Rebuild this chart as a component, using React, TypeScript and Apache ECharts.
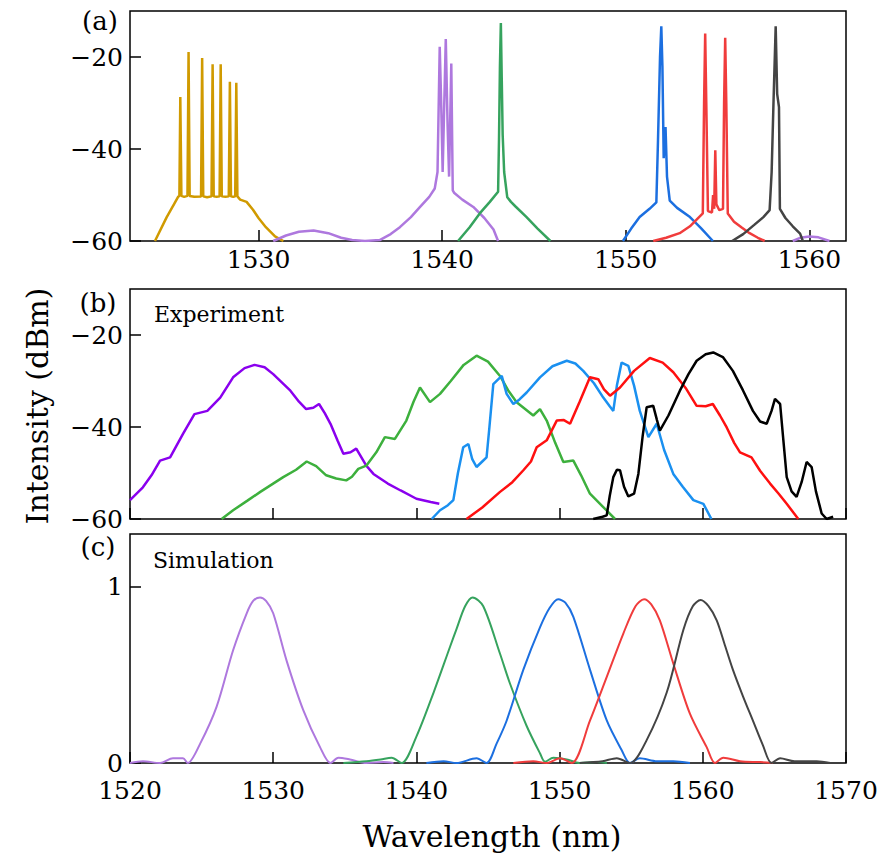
import React, { useEffect, useRef } from "react";
import * as echarts from "echarts";

// ---------- Panel (a): measured spectra (nm, dBm) ----------
const A_GOLD_X = [1524.36, 1525.0, 1525.4, 1525.62, 1525.69, 1525.74, 1525.8, 1525.95, 1526.13, 1526.19, 1526.25, 1526.5, 1526.87, 1526.93, 1526.99, 1527.2, 1527.44, 1527.5, 1527.56, 1527.72, 1527.88, 1527.94, 1528.0, 1528.2, 1528.38, 1528.44, 1528.5, 1528.62, 1528.73, 1528.79, 1528.85, 1529.0, 1529.35, 1529.7, 1530.0, 1530.4, 1530.9, 1531.35];
const A_GOLD_Y = [-60, -54.8, -52.0, -50.4, -50.2, -28.7, -50.2, -50.4, -50.2, -18.9, -50.2, -50.4, -50.3, -20.2, -50.3, -50.5, -50.3, -21.6, -50.3, -50.4, -50.3, -21.6, -50.3, -50.4, -50.3, -25.4, -50.3, -50.4, -50.3, -25.6, -50.3, -51.0, -51.5, -53.2, -55.0, -57.0, -59.0, -60];

const A_PURPLE_X = [1530.8, 1531.5, 1532.2, 1533.0, 1533.8, 1534.5, 1535.1, 1535.8, 1536.6, 1537.2, 1537.7, 1538.3, 1538.8, 1539.3, 1539.6, 1539.75, 1539.87, 1539.95, 1540.03, 1540.2, 1540.3, 1540.38, 1540.5, 1540.58, 1540.65, 1541.1, 1541.7, 1542.3, 1542.8, 1543.05];
const A_PURPLE_Y = [-60, -58.8, -58.0, -57.7, -58.3, -59.3, -59.8, -60, -59.8, -58.5, -57.0, -54.8, -52.6, -50.4, -48.6, -45.0, -17.8, -30.0, -45.0, -16.1, -35.0, -46.0, -21.4, -49.0, -49.5, -51.0, -52.6, -55.0, -57.5, -60];
const A_PURPLE_TAIL_X = [1559.1, 1559.5, 1560.0, 1560.5, 1561.1];
const A_PURPLE_TAIL_Y = [-60, -59.3, -59.0, -59.2, -60];

const A_GREEN_X = [1540.87, 1541.5, 1542.05, 1542.6, 1543.05, 1543.1, 1543.15, 1543.2, 1543.25, 1543.3, 1543.38, 1543.55, 1543.75, 1544.0, 1544.6, 1545.2, 1545.9];
const A_GREEN_Y = [-60, -57.0, -54.0, -51.5, -49.3, -37.8, -22.0, -12.6, -25.0, -37.0, -45.0, -50.5, -51.5, -52.5, -54.8, -57.3, -60];

const A_BLUE_X = [1549.85, 1550.3, 1550.76, 1551.3, 1551.67, 1551.76, 1551.87, 1551.94, 1552.0, 1552.07, 1552.17, 1552.25, 1552.4, 1552.8, 1553.5, 1554.1, 1554.75];
const A_BLUE_Y = [-60, -57.3, -54.8, -53.0, -51.6, -38.1, -20.0, -13.3, -22.0, -42.0, -35.2, -46.0, -51.2, -52.8, -54.8, -57.2, -60];

const A_RED_X = [1551.5, 1552.2, 1552.94, 1553.5, 1553.85, 1554.2, 1554.27, 1554.33, 1554.39, 1554.48, 1554.7, 1554.76, 1554.82, 1554.88, 1554.94, 1555.1, 1555.3, 1555.36, 1555.42, 1555.48, 1555.56, 1555.9, 1556.3, 1556.75, 1557.2, 1557.57];
const A_RED_Y = [-60, -59.3, -58.3, -56.8, -55.4, -54.0, -30.0, -14.9, -30.0, -53.5, -53.8, -50.0, -53.0, -40.3, -52.0, -53.3, -53.0, -30.0, -15.8, -30.0, -54.0, -55.8, -57.0, -58.3, -59.3, -60];

const A_GRAY_X = [1555.8, 1556.4, 1557.0, 1557.5, 1557.84, 1557.95, 1558.05, 1558.17, 1558.25, 1558.35, 1558.4, 1558.7, 1559.1, 1559.5, 1559.65];
const A_GRAY_Y = [-60, -58.5, -56.5, -54.8, -53.3, -45.0, -30.0, -13.3, -28.0, -30.9, -53.0, -55.0, -56.8, -58.4, -60];

// ---------- Panel (b): experiment (nm, dBm) ----------
const B_PURPLE_X = [1520.0, 1520.9, 1521.5, 1522.1, 1522.8, 1523.7, 1524.5, 1525.4, 1526.3, 1527.2, 1528.0, 1528.7, 1529.4, 1530.0, 1530.6, 1531.2, 1531.8, 1532.3, 1532.8, 1533.2, 1533.6, 1534.0, 1534.5, 1534.9, 1535.4, 1535.8, 1536.5, 1537.0, 1538.0, 1538.9, 1540.0, 1541.0, 1541.6];
const B_PURPLE_Y = [-55.9, -53.1, -50.5, -47.3, -46.6, -41.5, -37.2, -36.5, -33.6, -29.2, -27.2, -26.5, -27.0, -28.5, -30.3, -32.1, -34.5, -36.1, -35.8, -35.0, -37.0, -39.3, -43.0, -45.8, -45.5, -44.7, -48.4, -50.2, -52.3, -53.8, -55.6, -56.3, -56.7];

const B_GREEN_X = [1526.4, 1527.2, 1528.2, 1529.1, 1530.7, 1531.6, 1532.34, 1533.0, 1533.7, 1534.4, 1535.1, 1535.5, 1535.94, 1536.5, 1537.2, 1537.8, 1538.5, 1539.3, 1539.8, 1540.25, 1540.95, 1541.65, 1542.4, 1543.3, 1544.2, 1545.0, 1545.84, 1546.4, 1547.0, 1548.16, 1548.63, 1549.1, 1549.7, 1550.26, 1550.96, 1551.5, 1552.12, 1553.05, 1553.87];
const B_GREEN_Y = [-60, -58.1, -56.0, -54.1, -50.9, -49.3, -47.5, -48.5, -50.5, -51.2, -51.6, -50.8, -49.1, -48.4, -45.5, -42.2, -42.6, -38.6, -34.5, -31.4, -34.6, -32.8, -30.0, -26.5, -24.5, -25.8, -28.9, -32.0, -34.6, -37.5, -36.1, -38.6, -43.5, -47.6, -47.3, -50.5, -54.5, -57.4, -60];

const B_BLUE_X = [1541.07, 1541.65, 1542.2, 1542.58, 1542.9, 1543.27, 1543.63, 1543.9, 1544.2, 1544.6, 1544.9, 1545.1, 1545.37, 1545.96, 1546.3, 1546.77, 1547.2, 1547.7, 1548.63, 1549.5, 1550.5, 1551.1, 1551.65, 1552.4, 1553.05, 1553.5, 1553.75, 1554.0, 1554.33, 1554.8, 1555.2, 1555.6, 1556.2, 1556.78, 1557.3, 1557.94, 1558.6, 1559.34, 1560.04, 1560.6];
const B_BLUE_Y = [-60, -58.1, -57.0, -55.9, -50.0, -44.4, -43.7, -47.0, -48.7, -47.5, -46.6, -40.0, -30.7, -28.9, -32.8, -35.0, -34.0, -32.5, -29.2, -26.8, -25.6, -26.2, -27.8, -30.5, -33.6, -35.5, -36.5, -31.0, -26.0, -26.7, -31.0, -36.5, -42.2, -39.3, -45.0, -50.2, -53.0, -55.9, -56.7, -60];

const B_RED_X = [1543.5, 1544.6, 1545.84, 1546.7, 1547.47, 1548.0, 1548.4, 1549.1, 1549.8, 1550.3, 1550.73, 1551.4, 1552.12, 1552.7, 1553.1, 1553.52, 1554.22, 1555.2, 1556.3, 1557.2, 1557.94, 1558.8, 1559.57, 1560.2, 1560.7, 1561.2, 1561.67, 1562.2, 1562.6, 1563.4, 1564.0, 1564.7, 1565.3, 1565.86, 1566.67];
const B_RED_Y = [-60, -57.5, -54.1, -52.0, -49.4, -47.5, -44.4, -42.9, -38.6, -38.5, -39.3, -34.5, -29.2, -29.6, -31.8, -33.2, -31.4, -27.8, -25.0, -26.0, -28.1, -31.5, -35.4, -35.5, -35.0, -37.5, -40.1, -43.5, -45.5, -46.6, -49.5, -52.3, -54.5, -56.7, -60];

const B_BLACK_X = [1552.35, 1553.0, 1553.29, 1553.5, 1553.75, 1554.0, 1554.22, 1554.5, 1554.8, 1555.2, 1555.5, 1555.8, 1556.08, 1556.54, 1556.8, 1557.0, 1557.6, 1558.4, 1559.0, 1559.57, 1560.2, 1560.73, 1561.4, 1562.1, 1562.8, 1563.5, 1564.0, 1564.46, 1564.8, 1565.04, 1565.4, 1565.6, 1565.86, 1566.2, 1566.55, 1566.9, 1567.25, 1567.6, 1567.9, 1568.3, 1568.65, 1569.1];
const B_BLACK_Y = [-60, -59.5, -59.2, -55.0, -50.9, -49.3, -49.4, -53.0, -55.1, -54.5, -50.2, -42.0, -35.7, -35.4, -38.5, -40.8, -37.5, -32.1, -28.5, -25.6, -24.2, -23.8, -24.8, -27.8, -32.0, -36.5, -38.8, -39.3, -36.5, -33.9, -35.0, -42.0, -50.9, -54.0, -55.2, -52.0, -47.6, -48.7, -54.0, -58.8, -60, -59.5];

// ---------- Panel (c): simulation (nm, normalized) ----------
const C_PURPLE_X = [1520, 1520.9, 1522.1, 1523.0, 1523.7, 1524.03, 1524.9, 1526.05, 1527.2, 1528.15, 1528.6, 1529.08, 1529.5, 1530.0, 1530.94, 1532.1, 1533.27, 1534.0, 1534.55, 1535.36, 1536.5, 1537.7, 1538.4];
const C_PURPLE_Y = [0, 0.01, 0.0, 0.027, 0.027, 0.0, 0.11, 0.32, 0.64, 0.85, 0.92, 0.94, 0.92, 0.85, 0.58, 0.30, 0.09, 0.0, 0.03, 0.02, 0.0, 0.005, 0.0];

const C_GREEN_X = [1534.9, 1536.5, 1537.5, 1538.27, 1538.97, 1540.0, 1541.2, 1542.35, 1542.8, 1543.4, 1543.93, 1544.67, 1545.84, 1546.54, 1547.7, 1548.63, 1548.98, 1549.56, 1550.5, 1551.4, 1552.6, 1553.3];
const C_GREEN_Y = [0, 0.01, 0.02, 0.03, 0.0, 0.15, 0.40, 0.66, 0.76, 0.89, 0.94, 0.89, 0.62, 0.45, 0.21, 0.055, 0.007, 0.03, 0.02, 0.0, 0.005, 0.0];

const C_BLUE_X = [1540.7, 1541.9, 1542.8, 1544.2, 1544.9, 1545.6, 1546.3, 1547.47, 1548.63, 1549.3, 1549.9, 1550.4, 1550.96, 1552.12, 1553.3, 1554.33, 1554.92, 1555.6, 1556.8, 1557.94, 1559.1];
const C_BLUE_Y = [0, 0.01, 0.0, 0.027, 0.0, 0.11, 0.24, 0.53, 0.77, 0.88, 0.93, 0.91, 0.83, 0.53, 0.24, 0.074, 0.0, 0.027, 0.01, 0.01, 0.0];

const C_RED_X = [1546.77, 1548.16, 1549.1, 1550.03, 1550.85, 1552.12, 1553.3, 1554.45, 1555.3, 1555.9, 1556.4, 1557.0, 1557.94, 1559.1, 1560.27, 1560.85, 1561.43, 1562.6, 1564.0, 1564.9];
const C_RED_Y = [0, 0.01, 0.0, 0.027, 0.0, 0.24, 0.49, 0.735, 0.89, 0.93, 0.9, 0.81, 0.565, 0.28, 0.09, 0.0, 0.03, 0.01, 0.005, 0];

const C_GRAY_X = [1551.4, 1553.0, 1553.99, 1554.92, 1556.08, 1557.48, 1558.64, 1559.3, 1559.85, 1560.4, 1560.97, 1561.5, 1562.1, 1562.8, 1563.5, 1564.2, 1564.8, 1565.4, 1566.4, 1567.95, 1568.9];
const C_GRAY_Y = [0, 0.01, 0.027, 0.0, 0.13, 0.4, 0.755, 0.89, 0.925, 0.89, 0.81, 0.68, 0.53, 0.38, 0.24, 0.1, 0.0, 0.027, 0.01, 0.01, 0];

// ---------- Tick values ----------
const A_X_TICKS = [1530, 1540, 1550, 1560];
const DBM_TICKS = [-60, -40, -20];
const C_Y_TICKS = [0, 1];

const FONT = "DejaVu Serif";

const pts = (xs: number[], ys: number[]) => xs.map((x, i) => [x, ys[i]]);
const fmt = (v: number) => (v < 0 ? "\u2212" + Math.abs(v) : String(v));

function App() {
  const ref = useRef<HTMLDivElement>(null);
  useEffect(() => {
    if (!ref.current) return;
    const chart = echarts.init(ref.current, undefined, { renderer: "svg" });
    const tick = (vals?: number[]) => ({
      show: true,
      inside: true,
      length: 11,
      lineStyle: { color: "#000", width: 1.5 },
      ...(vals ? { customValues: vals } : {}),
    });
    const label = (margin: number, vals?: number[], show = true) => ({
      show,
      margin,
      color: "#000",
      fontFamily: FONT,
      fontSize: 25,
      lineHeight: 25,
      formatter: (v: number) => fmt(v),
      showMinLabel: true,
      showMaxLabel: true,
      ...(vals ? { customValues: vals } : {}),
    });
    const gridBase = { show: true, borderColor: "#000", borderWidth: 1.5, backgroundColor: "transparent", containLabel: false };
    const line = (name: string, xi: number, data: number[][], color: string, width = 2, smooth: number | boolean = false) => ({
      name,
      type: "line",
      xAxisIndex: xi,
      yAxisIndex: xi,
      data,
      showSymbol: false,
      symbol: "none",
      smooth,
      clip: true,
      lineStyle: { color, width },
      itemStyle: { color },
      emphasis: { disabled: true },
    });
    const option: any = {
      animation: false,
      backgroundColor: "#fff",
      grid: [
        { ...gridBase, left: 130, top: 11, width: 716, height: 230 },
        { ...gridBase, left: 130, top: 289, width: 716, height: 230 },
        { ...gridBase, left: 130, top: 534, width: 716, height: 229 },
      ],
      xAxis: [
        { gridIndex: 0, type: "value", min: 1523, max: 1562, axisLine: { show: false }, splitLine: { show: false }, axisTick: tick(A_X_TICKS), axisLabel: label(6, A_X_TICKS) },
        { gridIndex: 1, type: "value", min: 1520, max: 1570, interval: 10, axisLine: { show: false }, splitLine: { show: false }, axisTick: tick(), axisLabel: { show: false } },
        { gridIndex: 2, type: "value", min: 1520, max: 1570, interval: 10, axisLine: { show: false }, splitLine: { show: false }, axisTick: tick(), axisLabel: label(15) },
      ],
      yAxis: [
        { gridIndex: 0, type: "value", min: -60, max: -10, axisLine: { show: false }, splitLine: { show: false }, axisTick: tick(DBM_TICKS), axisLabel: label(7, DBM_TICKS) },
        { gridIndex: 1, type: "value", min: -60, max: -10, axisLine: { show: false }, splitLine: { show: false }, axisTick: tick(DBM_TICKS), axisLabel: label(7, DBM_TICKS) },
        { gridIndex: 2, type: "value", min: 0, max: 1.3, axisLine: { show: false }, splitLine: { show: false }, axisTick: tick(C_Y_TICKS), axisLabel: label(7, C_Y_TICKS) },
      ],
      series: [
        line("a-gold", 0, pts(A_GOLD_X, A_GOLD_Y), "#D09A00", 2.5),
        line("a-purple", 0, pts(A_PURPLE_X, A_PURPLE_Y), "#AE78DE", 2.5),
        line("a-purple-tail", 0, pts(A_PURPLE_TAIL_X, A_PURPLE_TAIL_Y), "#AE78DE", 2.5),
        line("a-green", 0, pts(A_GREEN_X, A_GREEN_Y), "#36A35E", 2.5),
        line("a-blue", 0, pts(A_BLUE_X, A_BLUE_Y), "#1C6FE0", 2.5),
        line("a-red", 0, pts(A_RED_X, A_RED_Y), "#F03C3C", 2.5),
        line("a-gray", 0, pts(A_GRAY_X, A_GRAY_Y), "#444444", 2.5),
        line("b-purple", 1, pts(B_PURPLE_X, B_PURPLE_Y), "#8A00EE", 2.5),
        line("b-green", 1, pts(B_GREEN_X, B_GREEN_Y), "#3DB03D", 2.5),
        line("b-blue", 1, pts(B_BLUE_X, B_BLUE_Y), "#1A90F0", 2.5),
        line("b-red", 1, pts(B_RED_X, B_RED_Y), "#FF1010", 2.5),
        line("b-black", 1, pts(B_BLACK_X, B_BLACK_Y), "#000000", 2.5),
        line("c-purple", 2, pts(C_PURPLE_X, C_PURPLE_Y), "#AE78DE", 2, 0.3),
        line("c-green", 2, pts(C_GREEN_X, C_GREEN_Y), "#36A35E", 2, 0.3),
        line("c-blue", 2, pts(C_BLUE_X, C_BLUE_Y), "#1C6FE0", 2, 0.3),
        line("c-red", 2, pts(C_RED_X, C_RED_Y), "#F03C3C", 2, 0.3),
        line("c-gray", 2, pts(C_GRAY_X, C_GRAY_Y), "#444444", 2, 0.3),
      ],
      graphic: [
        { type: "text", x: 100, y: 21, style: { text: "(a)", font: `26px "${FONT}"`, fill: "#000", align: "center", verticalAlign: "middle", textAlign: "center", textVerticalAlign: "middle" } },
        { type: "text", x: 98, y: 303, style: { text: "(b)", font: `26px "${FONT}"`, fill: "#000", align: "center", verticalAlign: "middle", textAlign: "center", textVerticalAlign: "middle" } },
        { type: "text", x: 98, y: 547, style: { text: "(c)", font: `26px "${FONT}"`, fill: "#000", align: "center", verticalAlign: "middle", textAlign: "center", textVerticalAlign: "middle" } },
        { type: "text", x: 154, y: 314, style: { text: "Experiment", font: `22px "${FONT}"`, fill: "#000", align: "left", verticalAlign: "middle", textAlign: "left", textVerticalAlign: "middle" } },
        { type: "text", x: 153, y: 560, style: { text: "Simulation", font: `22px "${FONT}"`, fill: "#000", align: "left", verticalAlign: "middle", textAlign: "left", textVerticalAlign: "middle" } },
        { type: "text", x: 37, y: 406, rotation: Math.PI / 2, style: { text: "Intensity (dBm)", font: `30px "${FONT}"`, fill: "#000", align: "center", verticalAlign: "middle", textAlign: "center", textVerticalAlign: "middle" } },
        { type: "text", x: 492, y: 836, style: { text: "Wavelength (nm)", font: `30px "${FONT}"`, fill: "#000", align: "center", verticalAlign: "middle", textAlign: "center", textVerticalAlign: "middle" } },
      ],
    };
    chart.setOption(option);
    return () => chart.dispose();
  }, []);
  return <div ref={ref} style={{ position: "fixed", left: 0, top: 0, width: 885, height: 861, background: "#fff" }} />;
}

export default App;
